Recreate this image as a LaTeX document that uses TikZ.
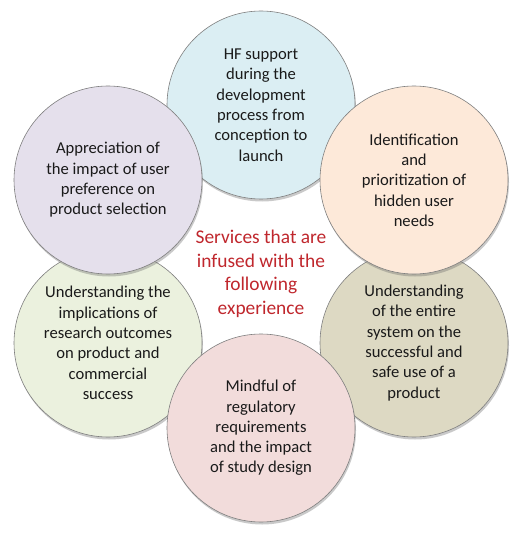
\documentclass[tikz,border=0pt]{standalone}
\usepackage{fontspec}
\setmainfont{Carlito}
\usetikzlibrary{shadows}
\definecolor{cblue}{HTML}{DBEEF3}
\definecolor{cpurple}{HTML}{E5E0EC}
\definecolor{cpeach}{HTML}{FDE9D9}
\definecolor{cgreen}{HTML}{EBF1DE}
\definecolor{ctan}{HTML}{DDD9C3}
\definecolor{cpink}{HTML}{F2DCDB}
\definecolor{cline}{HTML}{7F7F7F}
\definecolor{cred}{HTML}{C0272D}
\definecolor{ctext}{HTML}{1A1A1A}
\tikzset{
  bubble/.style={circle, draw=cline, line width=0.6pt, minimum size=188pt, inner sep=0pt,
    align=center, text=ctext, font=\fontsize{16.6}{20.3}\selectfont,
    drop shadow={shadow xshift=1pt, shadow yshift=-2.5pt, opacity=0.35, fill=black!60}},
  centre/.style={align=center, text=cred, font=\fontsize{19.4}{23.5}\selectfont}
}
\begin{document}
\begin{tikzpicture}[x=1pt,y=-1pt]
\useasboundingbox (0,0) rectangle (522,537);
\fill[white] (0,0) rectangle (522,537);
\node[bubble, fill=cblue] (top) at (261,105) {HF support\\during the\\development\\process from\\conception to\\launch};
\node[bubble, fill=cgreen] (bl) at (108,343) {Understanding the\\implications of\\research outcomes\\on product and\\commercial\\success};
\node[bubble, fill=ctan] (br) at (414,343) {Understanding\\of the entire\\system on the\\successful and\\safe use of a\\product};
\node[bubble, fill=cpurple] (tl) at (108,180) {Appreciation of\\the impact of user\\preference on\\product selection};
\node[bubble, fill=cpeach] (tr) at (414,180) {Identification\\and\\prioritization of\\hidden user\\needs};
\node[bubble, fill=cpink] (bot) at (261,428) {Mindful of\\regulatory\\requirements\\and the impact\\of study design};
\node[centre] (mid) at (261,274) {Services that are\\infused with the\\following\\experience};
\end{tikzpicture}
\end{document}
